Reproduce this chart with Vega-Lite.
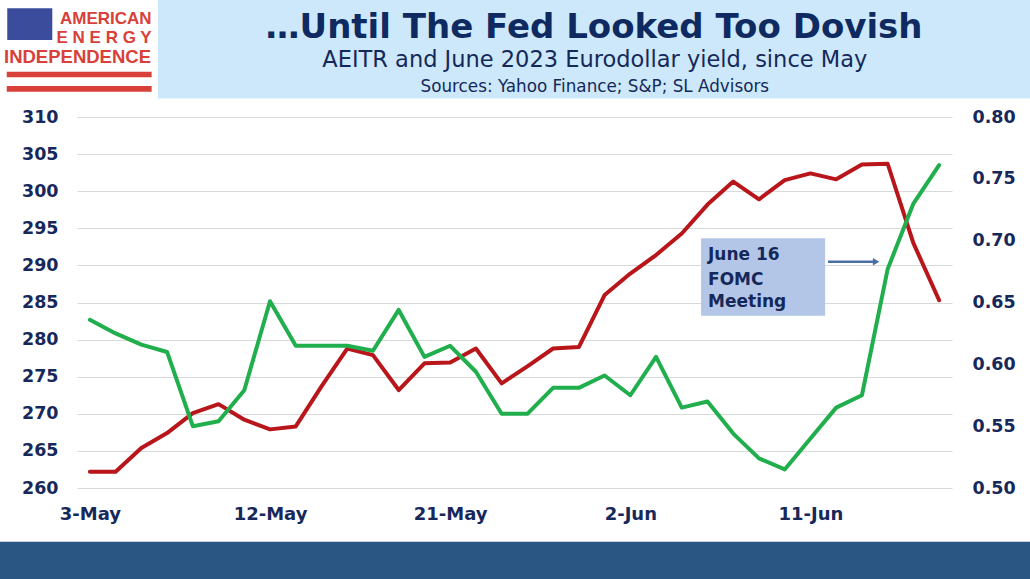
{
  "$schema": "https://vega.github.io/schema/vega-lite/v6.json",
  "width": 875,
  "height": 371,
  "autosize": {"type": "none"},
  "padding": {"left": 77, "top": 117, "right": 78, "bottom": 91},
  "background": "#ffffff",
  "config": {"view": {"stroke": null}},
  "datasets": {
    "series": [
      {"day": 0, "date": "3-May", "aeitr": 262.2, "ed": 0.636},
      {"day": 1, "date": "4-May", "aeitr": 262.2, "ed": 0.625},
      {"day": 2, "date": "5-May", "aeitr": 265.4, "ed": 0.616},
      {"day": 3, "date": "6-May", "aeitr": 267.4, "ed": 0.610},
      {"day": 4, "date": "7-May", "aeitr": 270.1, "ed": 0.550},
      {"day": 5, "date": "10-May", "aeitr": 271.3, "ed": 0.554},
      {"day": 6, "date": "11-May", "aeitr": 269.2, "ed": 0.579},
      {"day": 7, "date": "12-May", "aeitr": 267.9, "ed": 0.651},
      {"day": 8, "date": "13-May", "aeitr": 268.3, "ed": 0.615},
      {"day": 9, "date": "14-May", "aeitr": 273.7, "ed": 0.615},
      {"day": 10, "date": "17-May", "aeitr": 278.8, "ed": 0.615},
      {"day": 11, "date": "18-May", "aeitr": 277.9, "ed": 0.611},
      {"day": 12, "date": "19-May", "aeitr": 273.2, "ed": 0.644},
      {"day": 13, "date": "20-May", "aeitr": 276.8, "ed": 0.606},
      {"day": 14, "date": "21-May", "aeitr": 276.9, "ed": 0.615},
      {"day": 15, "date": "24-May", "aeitr": 278.8, "ed": 0.594},
      {"day": 16, "date": "25-May", "aeitr": 274.1, "ed": 0.560},
      {"day": 17, "date": "26-May", "aeitr": 276.4, "ed": 0.560},
      {"day": 18, "date": "27-May", "aeitr": 278.8, "ed": 0.581},
      {"day": 19, "date": "28-May", "aeitr": 279.0, "ed": 0.581},
      {"day": 20, "date": "1-Jun", "aeitr": 286.0, "ed": 0.591},
      {"day": 21, "date": "2-Jun", "aeitr": 288.9, "ed": 0.575},
      {"day": 22, "date": "3-Jun", "aeitr": 291.4, "ed": 0.606},
      {"day": 23, "date": "4-Jun", "aeitr": 294.3, "ed": 0.565},
      {"day": 24, "date": "7-Jun", "aeitr": 298.2, "ed": 0.570},
      {"day": 25, "date": "8-Jun", "aeitr": 301.3, "ed": 0.544},
      {"day": 26, "date": "9-Jun", "aeitr": 298.9, "ed": 0.524},
      {"day": 27, "date": "10-Jun", "aeitr": 301.5, "ed": 0.515},
      {"day": 28, "date": "11-Jun", "aeitr": 302.4, "ed": 0.540},
      {"day": 29, "date": "14-Jun", "aeitr": 301.6, "ed": 0.565},
      {"day": 30, "date": "15-Jun", "aeitr": 303.6, "ed": 0.575},
      {"day": 31, "date": "16-Jun", "aeitr": 303.7, "ed": 0.677},
      {"day": 32, "date": "17-Jun", "aeitr": 293.0, "ed": 0.730},
      {"day": 33, "date": "18-Jun", "aeitr": 285.3, "ed": 0.761}
    ],
    "band": [{"x": 2.647, "x2": 37, "y": 312.49, "y2": 327}],
    "footer": [{"x": -4, "x2": 37, "y": 246, "y2": 252.76}],
    "flag": [{"x": -3.21, "x2": -1.46, "y": 320.38, "y2": 324.65}],
    "stripes": [
      {"x": -3.23, "x2": 2.40, "y": 315.35, "y2": 316.11},
      {"x": -3.23, "x2": 2.40, "y": 313.41, "y2": 314.18}
    ],
    "logoRight": [
      {"x": 2.40, "y": 322.60, "t": "AMERICAN"},
      {"x": 2.40, "y": 319.93, "t": "E N E R G Y"}
    ],
    "logoCenter": [{"x": -0.48, "y": 317.24, "t": "INDEPENDENCE"}],
    "title": [{"x": 19.59, "y": 320.58, "t": "…Until The Fed Looked Too Dovish"}],
    "subtitle": [{"x": 19.62, "y": 316.74, "t": "AEITR and June 2023 Eurodollar yield, since May"}],
    "sources": [{"x": 19.62, "y": 313.37, "t": "Sources: Yahoo Finance; S&P; SL Advisors"}],
    "box": [{"x": 23.75, "x2": 28.57, "y": 283.22, "y2": 293.65}],
    "note": [
      {"x": 24.02, "y": 290.73, "t": "June 16"},
      {"x": 24.02, "y": 287.36, "t": "FOMC"},
      {"x": 24.02, "y": 284.43, "t": "Meeting"}
    ],
    "arrow": [{"x": 28.68, "x2": 30.45, "y": 290.5}],
    "head": [{"x": 30.55, "y": 290.5}]
  },
  "layer": [
    {
      "layer": [
        {
          "data": {"name": "band"},
          "mark": {"type": "rect", "color": "#cde8fa"},
          "encoding": {
            "x": {"field": "x", "type": "quantitative", "scale": {"domain": [-0.5, 33.5], "nice": false, "zero": false}, "axis": null},
            "x2": {"field": "x2"},
            "y": {"field": "y", "type": "quantitative", "scale": {"domain": [260, 310], "nice": false, "zero": false}, "axis": null},
            "y2": {"field": "y2"}
          }
        },
        {
          "data": {"name": "footer"},
          "mark": {"type": "rect", "color": "#2a5684"},
          "encoding": {
            "x": {"field": "x", "type": "quantitative", "scale": {"domain": [-0.5, 33.5], "nice": false, "zero": false}, "axis": null},
            "x2": {"field": "x2"},
            "y": {"field": "y", "type": "quantitative", "scale": {"domain": [260, 310], "nice": false, "zero": false}, "axis": null},
            "y2": {"field": "y2"}
          }
        },
        {
          "data": {"name": "flag"},
          "mark": {"type": "rect", "color": "#3b4c9c"},
          "encoding": {
            "x": {"field": "x", "type": "quantitative", "scale": {"domain": [-0.5, 33.5], "nice": false, "zero": false}, "axis": null},
            "x2": {"field": "x2"},
            "y": {"field": "y", "type": "quantitative", "scale": {"domain": [260, 310], "nice": false, "zero": false}, "axis": null},
            "y2": {"field": "y2"}
          }
        },
        {
          "data": {"name": "stripes"},
          "mark": {"type": "rect", "color": "#d9403a"},
          "encoding": {
            "x": {"field": "x", "type": "quantitative", "scale": {"domain": [-0.5, 33.5], "nice": false, "zero": false}, "axis": null},
            "x2": {"field": "x2"},
            "y": {"field": "y", "type": "quantitative", "scale": {"domain": [260, 310], "nice": false, "zero": false}, "axis": null},
            "y2": {"field": "y2"}
          }
        },
        {
          "data": {"name": "logoRight"},
          "mark": {"type": "text", "align": "right", "baseline": "alphabetic", "font": "Liberation Sans", "fontWeight": "bold", "fontSize": 17, "color": "#d9403a"},
          "encoding": {
            "x": {"field": "x", "type": "quantitative", "scale": {"domain": [-0.5, 33.5], "nice": false, "zero": false}, "axis": null},
            "y": {"field": "y", "type": "quantitative", "scale": {"domain": [260, 310], "nice": false, "zero": false}, "axis": null},
            "text": {"field": "t"}
          }
        },
        {
          "data": {"name": "logoCenter"},
          "mark": {"type": "text", "align": "center", "baseline": "alphabetic", "font": "Liberation Sans", "fontWeight": "bold", "fontSize": 18.5, "color": "#d9403a"},
          "encoding": {
            "x": {"field": "x", "type": "quantitative", "scale": {"domain": [-0.5, 33.5], "nice": false, "zero": false}, "axis": null},
            "y": {"field": "y", "type": "quantitative", "scale": {"domain": [260, 310], "nice": false, "zero": false}, "axis": null},
            "text": {"field": "t"}
          }
        },
        {
          "data": {"name": "title"},
          "mark": {"type": "text", "align": "center", "baseline": "alphabetic", "font": "DejaVu Sans", "fontWeight": "bold", "fontSize": 34, "color": "#0e2a60"},
          "encoding": {
            "x": {"field": "x", "type": "quantitative", "scale": {"domain": [-0.5, 33.5], "nice": false, "zero": false}, "axis": null},
            "y": {"field": "y", "type": "quantitative", "scale": {"domain": [260, 310], "nice": false, "zero": false}, "axis": null},
            "text": {"field": "t"}
          }
        },
        {
          "data": {"name": "subtitle"},
          "mark": {"type": "text", "align": "center", "baseline": "alphabetic", "font": "DejaVu Sans", "fontSize": 22.5, "color": "#14295a"},
          "encoding": {
            "x": {"field": "x", "type": "quantitative", "scale": {"domain": [-0.5, 33.5], "nice": false, "zero": false}, "axis": null},
            "y": {"field": "y", "type": "quantitative", "scale": {"domain": [260, 310], "nice": false, "zero": false}, "axis": null},
            "text": {"field": "t"}
          }
        },
        {
          "data": {"name": "sources"},
          "mark": {"type": "text", "align": "center", "baseline": "alphabetic", "font": "DejaVu Sans", "fontSize": 16.8, "color": "#14295a"},
          "encoding": {
            "x": {"field": "x", "type": "quantitative", "scale": {"domain": [-0.5, 33.5], "nice": false, "zero": false}, "axis": null},
            "y": {"field": "y", "type": "quantitative", "scale": {"domain": [260, 310], "nice": false, "zero": false}, "axis": null},
            "text": {"field": "t"}
          }
        },
        {
          "data": {"name": "box"},
          "mark": {"type": "rect", "color": "#b4c6e7"},
          "encoding": {
            "x": {"field": "x", "type": "quantitative", "scale": {"domain": [-0.5, 33.5], "nice": false, "zero": false}, "axis": null},
            "x2": {"field": "x2"},
            "y": {"field": "y", "type": "quantitative", "scale": {"domain": [260, 310], "nice": false, "zero": false}, "axis": null},
            "y2": {"field": "y2"}
          }
        },
        {
          "data": {"name": "note"},
          "mark": {"type": "text", "align": "left", "baseline": "alphabetic", "font": "DejaVu Sans", "fontWeight": "bold", "fontSize": 17, "color": "#14285a"},
          "encoding": {
            "x": {"field": "x", "type": "quantitative", "scale": {"domain": [-0.5, 33.5], "nice": false, "zero": false}, "axis": null},
            "y": {"field": "y", "type": "quantitative", "scale": {"domain": [260, 310], "nice": false, "zero": false}, "axis": null},
            "text": {"field": "t"}
          }
        },
        {
          "data": {"name": "arrow"},
          "mark": {"type": "rule", "color": "#4a6fa5", "strokeWidth": 2.5},
          "encoding": {
            "x": {"field": "x", "type": "quantitative", "scale": {"domain": [-0.5, 33.5], "nice": false, "zero": false}, "axis": null},
            "x2": {"field": "x2"},
            "y": {"field": "y", "type": "quantitative", "scale": {"domain": [260, 310], "nice": false, "zero": false}, "axis": null}
          }
        },
        {
          "data": {"name": "head"},
          "mark": {"type": "point", "shape": "triangle-right", "filled": true, "size": 55, "color": "#4a6fa5", "opacity": 1},
          "encoding": {
            "x": {"field": "x", "type": "quantitative", "scale": {"domain": [-0.5, 33.5], "nice": false, "zero": false}, "axis": null},
            "y": {"field": "y", "type": "quantitative", "scale": {"domain": [260, 310], "nice": false, "zero": false}, "axis": null}
          }
        }
      ]
    },
    {
      "data": {"name": "series"},
      "mark": {"type": "line", "color": "#b8161a", "strokeWidth": 4, "strokeJoin": "round", "strokeCap": "round"},
      "encoding": {
        "x": {
          "field": "day", "type": "quantitative",
          "scale": {"domain": [-0.5, 33.5], "nice": false, "zero": false},
          "axis": {
            "orient": "bottom",
            "values": [0, 7, 14, 21, 28],
            "labelExpr": "['3-May','12-May','21-May','2-Jun','11-Jun'][datum.value/7]",
            "title": null, "grid": false, "ticks": false, "domain": false,
            "labelFont": "DejaVu Sans", "labelFontWeight": "bold", "labelFontSize": 18,
            "labelColor": "#17285a", "labelPadding": 17,
            "labelFlush": false, "labelOverlap": false, "labelBound": false
          }
        },
        "y": {
          "field": "aeitr", "type": "quantitative",
          "scale": {"domain": [260, 310], "nice": false, "zero": false},
          "axis": {
            "orient": "left",
            "values": [260, 265, 270, 275, 280, 285, 290, 295, 300, 305, 310],
            "title": null, "ticks": false, "domain": false,
            "grid": true, "gridColor": "#d9d9d9", "gridWidth": 1,
            "labelFont": "DejaVu Sans", "labelFontWeight": "bold", "labelFontSize": 17.5,
            "labelColor": "#17285a", "labelPadding": 19,
            "labelFlush": false, "labelOverlap": false, "labelBound": false
          }
        }
      }
    },
    {
      "data": {"name": "series"},
      "mark": {"type": "line", "color": "#21ae4d", "strokeWidth": 4, "strokeJoin": "round", "strokeCap": "round"},
      "encoding": {
        "x": {"field": "day", "type": "quantitative", "scale": {"domain": [-0.5, 33.5], "nice": false, "zero": false}, "axis": null},
        "y": {
          "field": "ed", "type": "quantitative",
          "scale": {"domain": [0.5, 0.8], "nice": false, "zero": false},
          "axis": {
            "orient": "right",
            "values": [0.5, 0.55, 0.6, 0.65, 0.7, 0.75, 0.8],
            "format": ".2f",
            "title": null, "ticks": false, "domain": false, "grid": false,
            "labelFont": "DejaVu Sans", "labelFontWeight": "bold", "labelFontSize": 17.5,
            "labelColor": "#17285a", "labelPadding": 20,
            "labelFlush": false, "labelOverlap": false, "labelBound": false
          }
        }
      }
    }
  ],
  "resolve": {
    "scale": {"x": "independent", "y": "independent"},
    "axis": {"x": "independent", "y": "independent"}
  }
}
